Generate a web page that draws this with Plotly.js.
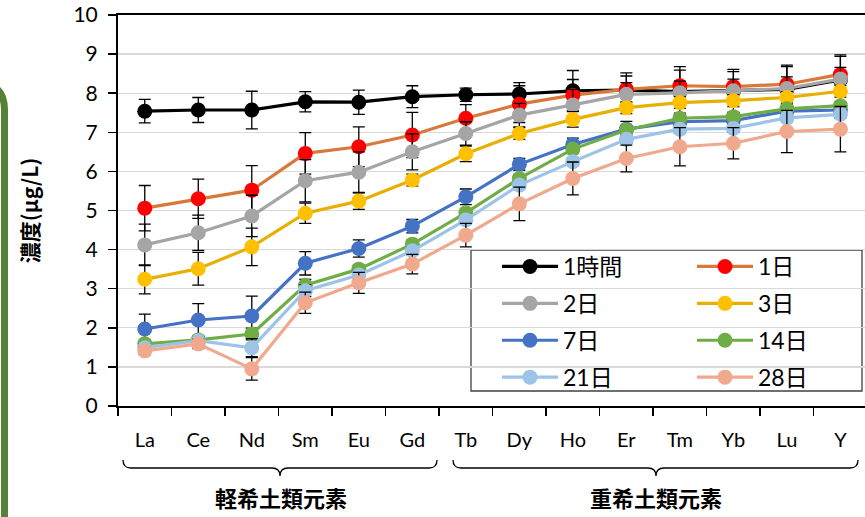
<!DOCTYPE html>
<html>
<head>
<meta charset="utf-8">
<script src="https://cdn.plot.ly/plotly-3.0.1.min.js"></script>
<style>
html,body{margin:0;padding:0;background:#fff;}
#chart{width:865px;height:517px;}
</style>
</head>
<body>
<div id="chart"></div>
<script>
// ---- data ----
const elements = ['La','Ce','Nd','Sm','Eu','Gd','Tb','Dy','Ho','Er','Tm','Yb','Lu','Y'];
const seriesNames = ['1時間','1日','2日','3日','7日','14日','21日','28日'];

const v1h  = [7.54,7.57,7.57,7.78,7.77,7.91,7.96,7.98,8.06,8.08,8.04,8.06,8.10,8.34];
const v1d  = [5.06,5.30,5.52,6.46,6.63,6.93,7.36,7.72,7.95,8.10,8.19,8.17,8.23,8.48];
const v2d  = [4.12,4.43,4.86,5.76,5.98,6.50,6.97,7.44,7.70,7.97,8.01,8.06,8.12,8.36];
const v3d  = [3.24,3.51,4.07,4.93,5.24,5.78,6.45,6.97,7.33,7.63,7.76,7.81,7.89,8.05];
const v7d  = [1.97,2.20,2.30,3.65,4.03,4.60,5.35,6.18,6.69,7.08,7.27,7.30,7.54,7.57];
const v14d = [1.59,1.69,1.84,3.09,3.50,4.14,4.94,5.82,6.57,7.06,7.36,7.40,7.60,7.68];
const v21d = [1.49,1.67,1.49,2.95,3.35,3.97,4.76,5.65,6.25,6.82,7.08,7.10,7.37,7.46];
const v28d = [1.41,1.59,0.95,2.64,3.15,3.63,4.37,5.17,5.82,6.33,6.63,6.72,7.02,7.08];

const e1h  = [0.30,0.32,0.48,0.26,0.31,0.28,0.17,0.29,0.52,0.44,0.55,0.55,0.62,0.60];
const e1d  = [0.58,0.50,0.63,0.53,0.51,0.58,0.35,0.47,0.40,0.34,0.49,0.38,0.45,0.50];
const e2d  = [0.53,0.45,0.53,0.54,0.52,0.46,0.30,0.30,0.40,0.30,0.30,0.30,0.30,0.30];
const e3d  = [0.37,0.42,0.48,0.26,0.21,0.15,0.20,0.15,0.20,0.15,0.15,0.15,0.15,0.15];
const e7d  = [0.38,0.42,0.51,0.30,0.22,0.17,0.20,0.15,0.16,0.20,0.15,0.15,0.15,0.15];
const e14d = [0.10,0.10,0.15,0.15,0.10,0.10,0.10,0.10,0.10,0.10,0.10,0.10,0.10,0.10];
const e21d = [0.10,0.10,0.23,0.15,0.10,0.10,0.10,0.10,0.10,0.10,0.10,0.10,0.10,0.10];
const e28d = [0.10,0.12,0.29,0.27,0.27,0.25,0.30,0.43,0.42,0.34,0.49,0.40,0.54,0.58];

const groupLabels = ['軽希土類元素','重希土類元素'];
const yTitle = '濃度(μg/L)';

// ---- styles ----
const values = [v1h,v1d,v2d,v3d,v7d,v14d,v21d,v28d];
const errors = [e1h,e1d,e2d,e3d,e7d,e14d,e21d,e28d];
const lineColors   = ['#000000','#D8783A','#A5A5A5','#E8AE00','#4472C4','#70AD47','#9DC3E6','#F0A98C'];
const markerColors = ['#000000','#FF0000','#A5A5A5','#FFC000','#4472C4','#70AD47','#9DC3E6','#F0A98C'];
const legendOf     = ['legend','legend2','legend','legend2','legend','legend2','legend','legend2'];

const traces = seriesNames.map((name,i)=>({
  type:'scatter', mode:'lines+markers', name:name,
  x: elements, y: values[i],
  line:{color:lineColors[i], width:3.2},
  marker:{color:markerColors[i], size:15},
  error_y:{type:'data', array:errors[i], visible:true, color:'#000000', thickness:1.3, width:6},
  legend: legendOf[i], legendgroup:'g'+i
}));

// geometry helpers (pixel -> paper)
const W=865,H=517,L=118,R=0,T=15,B=111;
const PW=W-L-R, PH=H-T-B;
const px=x=>+((x-L)/PW).toFixed(5);
const py=y=>+((T+PH-y)/PH).toFixed(5);
const P=(x,y)=>px(x)+','+py(y);

function brace(x0,x1,xc,yTop,yMid,yTip){
  const r=8;
  return 'M'+P(x0,yTop)+' Q'+P(x0,yMid)+' '+P(x0+r,yMid)+' L'+P(xc-r,yMid)+
         ' Q'+P(xc,yMid)+' '+P(xc,yTip)+' Q'+P(xc,yMid)+' '+P(xc+r,yMid)+
         ' L'+P(x1-r,yMid)+' Q'+P(x1,yMid)+' '+P(x1,yTop);
}

const shapes = [
  {type:'rect', xref:'paper', yref:'paper', x0:px(471), x1:px(862), y0:py(250), y1:py(391),
   line:{color:'#404040',width:1.3}, fillcolor:'#ffffff', layer:'between'},
  {type:'path', xref:'paper', yref:'paper', path:brace(123,437,280,460,468,476), line:{color:'#000',width:1.3}},
  {type:'path', xref:'paper', yref:'paper', path:brace(453,858,656,460,468,476), line:{color:'#000',width:1.3}},
  {type:'path', xref:'paper', yref:'paper',
   path:'M'+P(-40,84)+' L'+P(-20,84)+' Q'+P(4.5,84)+' '+P(4.5,110)+' L'+P(4.5,540),
   line:{color:'#548235',width:7}}
];

const annotations = [
  {xref:'paper', yref:'paper', x:px(281), y:py(497), xanchor:'center', yanchor:'middle',
   text:'<b>'+groupLabels[0]+'</b>', showarrow:false,
   font:{family:'Noto Sans CJK JP', size:22, color:'#000'}},
  {xref:'paper', yref:'paper', x:px(656), y:py(497), xanchor:'center', yanchor:'middle',
   text:'<b>'+groupLabels[1]+'</b>', showarrow:false,
   font:{family:'Noto Sans CJK JP', size:22, color:'#000'}}
];

const legendCommon = {
  orientation:'v', bgcolor:'rgba(0,0,0,0)', borderwidth:0,
  font:{family:'Lato, "Noto Sans CJK JP"', size:23, color:'#000'},
  tracegroupgap:4, xanchor:'left', yanchor:'top', itemsizing:'trace', itemwidth:56
};

const layout = {
  width:W, height:H,
  margin:{l:L, r:R, t:T, b:B},
  paper_bgcolor:'#fff', plot_bgcolor:'#fff',
  showlegend:true,
  legend: Object.assign({}, legendCommon, {x:px(497), y:py(245)}),
  legend2: Object.assign({}, legendCommon, {x:px(692), y:py(245)}),
  xaxis:{
    type:'category', range:[-0.5,13.46],
    showline:true, linecolor:'#000', linewidth:2, mirror:true,
    ticks:'outside', tickson:'boundaries', ticklen:8, tickcolor:'#000', tickwidth:1.5,
    showgrid:false, zeroline:false,
    tickfont:{family:'Lato', size:20, color:'#000'}, ticklabelstandoff:15
  },
  yaxis:{
    range:[0,10], dtick:1, tick0:0,
    showline:true, linecolor:'#000', linewidth:2,
    ticks:'outside', ticklen:8, tickcolor:'#000', tickwidth:1.5,
    showgrid:true, gridcolor:'#D9D9D9', gridwidth:1.3, zeroline:false,
    tickfont:{family:'Lato', size:21, color:'#000'}, ticklabelstandoff:6,
    title:{text:'<b>'+yTitle+'</b>', standoff:29, font:{family:'Noto Sans CJK JP', size:21, color:'#000'}}
  },
  shapes:shapes,
  annotations:annotations
};

Plotly.newPlot('chart', traces, layout, {displayModeBar:false, staticPlot:true});
</script>
</body>
</html>
